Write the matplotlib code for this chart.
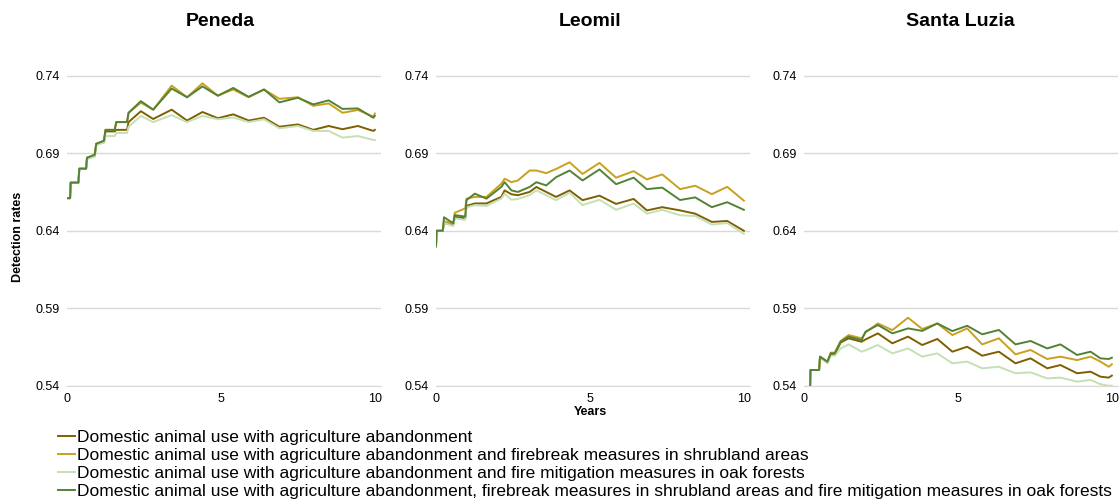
import matplotlib.pyplot as plt
from matplotlib.ticker import FormatStrFormatter

plt.rcParams['font.family'] = ['Liberation Sans', 'DejaVu Sans']

# series names (legend order)
escenarios = [
    "Domestic animal use with agriculture abandonment",
    "Domestic animal use with agriculture abandonment and firebreak measures in shrubland areas",
    "Domestic animal use with agriculture abandonment and fire mitigation measures in oak forests",
    "Domestic animal use with agriculture abandonment, firebreak measures in shrubland areas and fire mitigation measures in oak forests",
]
colores = ['#7F6000', '#C9A020', '#C5E0B4', '#548235']

# Peneda
anos_peneda = [0, 0.1, 0.12, 0.37, 0.4, 0.62, 0.65, 0.9, 0.95, 1.2, 1.25, 1.55, 1.6, 1.95, 2.0,
               2.4, 2.8, 3.4, 3.9, 4.4, 4.9, 5.4, 5.9, 6.4, 6.9,
               7.5, 8.0, 8.5, 8.95, 9.45, 9.95, 10]
peneda_1 = [0.661, 0.661, 0.671, 0.671, 0.680, 0.680, 0.687, 0.688, 0.696, 0.697, 0.704, 0.704, 0.705, 0.705, 0.710,
            0.717, 0.712, 0.718, 0.711, 0.7165, 0.7125, 0.715, 0.711, 0.7128, 0.707,
            0.7085, 0.705, 0.7075, 0.7054, 0.7075, 0.7043, 0.705]
peneda_2 = [0.661, 0.661, 0.671, 0.671, 0.680, 0.680, 0.687, 0.689, 0.696, 0.698, 0.705, 0.705, 0.710, 0.710, 0.716,
            0.7225, 0.718, 0.7335, 0.726, 0.735, 0.727, 0.731, 0.726, 0.731, 0.725,
            0.726, 0.7205, 0.722, 0.716, 0.7178, 0.7135, 0.7155]
peneda_3 = [0.661, 0.661, 0.671, 0.671, 0.680, 0.680, 0.686, 0.688, 0.695, 0.697, 0.701, 0.701, 0.703, 0.703, 0.707,
            0.714, 0.710, 0.7145, 0.710, 0.714, 0.7118, 0.713, 0.710, 0.7118, 0.706,
            0.7075, 0.7043, 0.7043, 0.700, 0.701, 0.6985, 0.6985]
peneda_4 = [0.661, 0.661, 0.671, 0.671, 0.680, 0.680, 0.687, 0.689, 0.696, 0.698, 0.705, 0.705, 0.710, 0.710, 0.716,
            0.7235, 0.718, 0.7316, 0.726, 0.733, 0.727, 0.732, 0.7263, 0.731, 0.7227,
            0.7257, 0.7214, 0.724, 0.7185, 0.7188, 0.7128, 0.714]

# Leomil
anos_leomil = [0, 0.02, 0.22, 0.26, 0.56, 0.61, 0.95, 0.99, 1.26, 1.64,
               2.12, 2.23, 2.45, 2.66, 3.04, 3.26, 3.58, 3.9, 4.34, 4.76,
               5.31, 5.85, 6.42, 6.85, 7.35, 7.93, 8.42, 8.96, 9.46, 10]
leomil_1 = [0.630, 0.640, 0.640, 0.645, 0.6435, 0.649, 0.648, 0.656, 0.6576, 0.6576,
            0.6618, 0.666, 0.6635, 0.6629, 0.665, 0.6682, 0.665, 0.6618, 0.666, 0.6597,
            0.6626, 0.6573, 0.6605, 0.6531, 0.6552, 0.6531, 0.651, 0.6457, 0.6463, 0.640]
leomil_2 = [0.630, 0.640, 0.640, 0.646, 0.6448, 0.6516, 0.6544, 0.6607, 0.6618, 0.6618,
            0.6703, 0.6735, 0.6713, 0.6724, 0.6788, 0.6788, 0.6771, 0.6798, 0.6841, 0.6766,
            0.6837, 0.6742, 0.6784, 0.6731, 0.6763, 0.6668, 0.669, 0.6636, 0.6683, 0.6594]
leomil_3 = [0.630, 0.640, 0.640, 0.645, 0.643, 0.648, 0.647, 0.655, 0.6565, 0.656,
            0.6607, 0.6639, 0.660, 0.6605, 0.6629, 0.666, 0.6629, 0.6597, 0.6645, 0.6565,
            0.660, 0.6535, 0.6575, 0.651, 0.6535, 0.650, 0.6495, 0.644, 0.645, 0.638]
leomil_4 = [0.630, 0.640, 0.640, 0.6487, 0.6448, 0.6501, 0.6491, 0.6597, 0.6639, 0.6607,
            0.6682, 0.6713, 0.666, 0.665, 0.6682, 0.6713, 0.6692, 0.6745, 0.6788, 0.6724,
            0.6795, 0.670, 0.6742, 0.6668, 0.6678, 0.6598, 0.6615, 0.6552, 0.6584, 0.6535]

# Santa Luzia
anos_luzia = [0.2, 0.21, 0.49, 0.52, 0.76, 0.87, 1.0, 1.19, 1.45, 1.87,
              2.0, 2.4, 2.87, 3.38, 3.84, 4.33, 4.82, 5.3, 5.79, 6.33,
              6.87, 7.36, 7.9, 8.33, 8.87, 9.31, 9.63, 9.9, 10]
luzia_1 = [0.5406, 0.5503, 0.5503, 0.5585, 0.555, 0.5605, 0.5605, 0.568, 0.5707, 0.5685,
           0.570, 0.5739, 0.5675, 0.5718, 0.5664, 0.5703, 0.5621, 0.5653, 0.5595, 0.5621,
           0.5546, 0.5578, 0.5514, 0.5535, 0.5482, 0.5492, 0.546, 0.5454, 0.5467]
luzia_2 = [0.5406, 0.5503, 0.5503, 0.5589, 0.5557, 0.5615, 0.5615, 0.569, 0.5728, 0.5707,
           0.5745, 0.5803, 0.576, 0.584, 0.5767, 0.5803, 0.5728, 0.5771, 0.5668, 0.5707,
           0.5604, 0.5632, 0.5574, 0.5589, 0.5567, 0.5589, 0.5557, 0.5524, 0.554]
luzia_3 = [0.5406, 0.5503, 0.5503, 0.5585, 0.555, 0.5595, 0.5595, 0.5642, 0.5668, 0.5621,
           0.563, 0.5664, 0.561, 0.5642, 0.5589, 0.561, 0.5546, 0.5557, 0.5514, 0.5524,
           0.5482, 0.5488, 0.5449, 0.5454, 0.5428, 0.5439, 0.5411, 0.5402, 0.5402]
luzia_4 = [0.5406, 0.5503, 0.5503, 0.5589, 0.5557, 0.561, 0.561, 0.5685, 0.5718, 0.5696,
           0.575, 0.5793, 0.5739, 0.5771, 0.5755, 0.5803, 0.5754, 0.5788, 0.5733, 0.5761,
           0.5668, 0.569, 0.5642, 0.5668, 0.560, 0.5621, 0.5578, 0.5574, 0.5582]

paneles = [
    ("Peneda", anos_peneda, [peneda_1, peneda_2, peneda_3, peneda_4]),
    ("Leomil", anos_leomil, [leomil_1, leomil_2, leomil_3, leomil_4]),
    ("Santa Luzia", anos_luzia, [luzia_1, luzia_2, luzia_3, luzia_4]),
]
yticks = [0.54, 0.59, 0.64, 0.69, 0.74]

W, H = 1119, 504
fig = plt.figure(figsize=(W / 100, H / 100), dpi=100)

lefts = [67, 436, 804]
titulos_x = [220, 590, 960]
for (nombre, anos, series), left, tx in zip(paneles, lefts, titulos_x):
    ax = fig.add_axes([left / W, 1 - 386 / H, 314 / W, 326 / H])
    for serie, color, etiqueta in zip(series, colores, escenarios):
        ax.plot(anos, serie, color=color, lw=1.4, label=etiqueta)
    ax.set_xlim(0, 10.2)
    ax.set_ylim(0.54, 0.75)
    ax.set_xticks([0, 5, 10])
    ax.set_yticks(yticks)
    ax.yaxis.set_major_formatter(FormatStrFormatter('%.2f'))
    ax.grid(axis='y', color='#d9d9d9', lw=1)
    ax.set_axisbelow(True)
    for s in ['top', 'right', 'left']:
        ax.spines[s].set_visible(False)
    ax.spines['bottom'].set_color('#d9d9d9')
    ax.tick_params(length=0, labelsize=9, pad=5, colors='#000000')
    fig.text(tx / W, 1 - 22 / H, nombre, fontsize=14, fontweight='bold', ha='center', va='center')

fig.text(18 / W, 1 - 237 / H, "Detection rates", rotation=90, fontsize=9, fontweight='bold',
         ha='center', va='center')
fig.text(590 / W, 1 - 412 / H, "Years", fontsize=9, fontweight='bold', ha='center', va='center')

handles, labels = ax.get_legend_handles_labels()
fig.legend(handles, labels, loc='upper left', bbox_to_anchor=(58 / W, 1 - 430 / H),
           frameon=False, fontsize=12.5, handlelength=1.0, handletextpad=0.12,
           labelspacing=0.17, borderpad=0, borderaxespad=0)

fig.savefig('out.png', dpi=100)
